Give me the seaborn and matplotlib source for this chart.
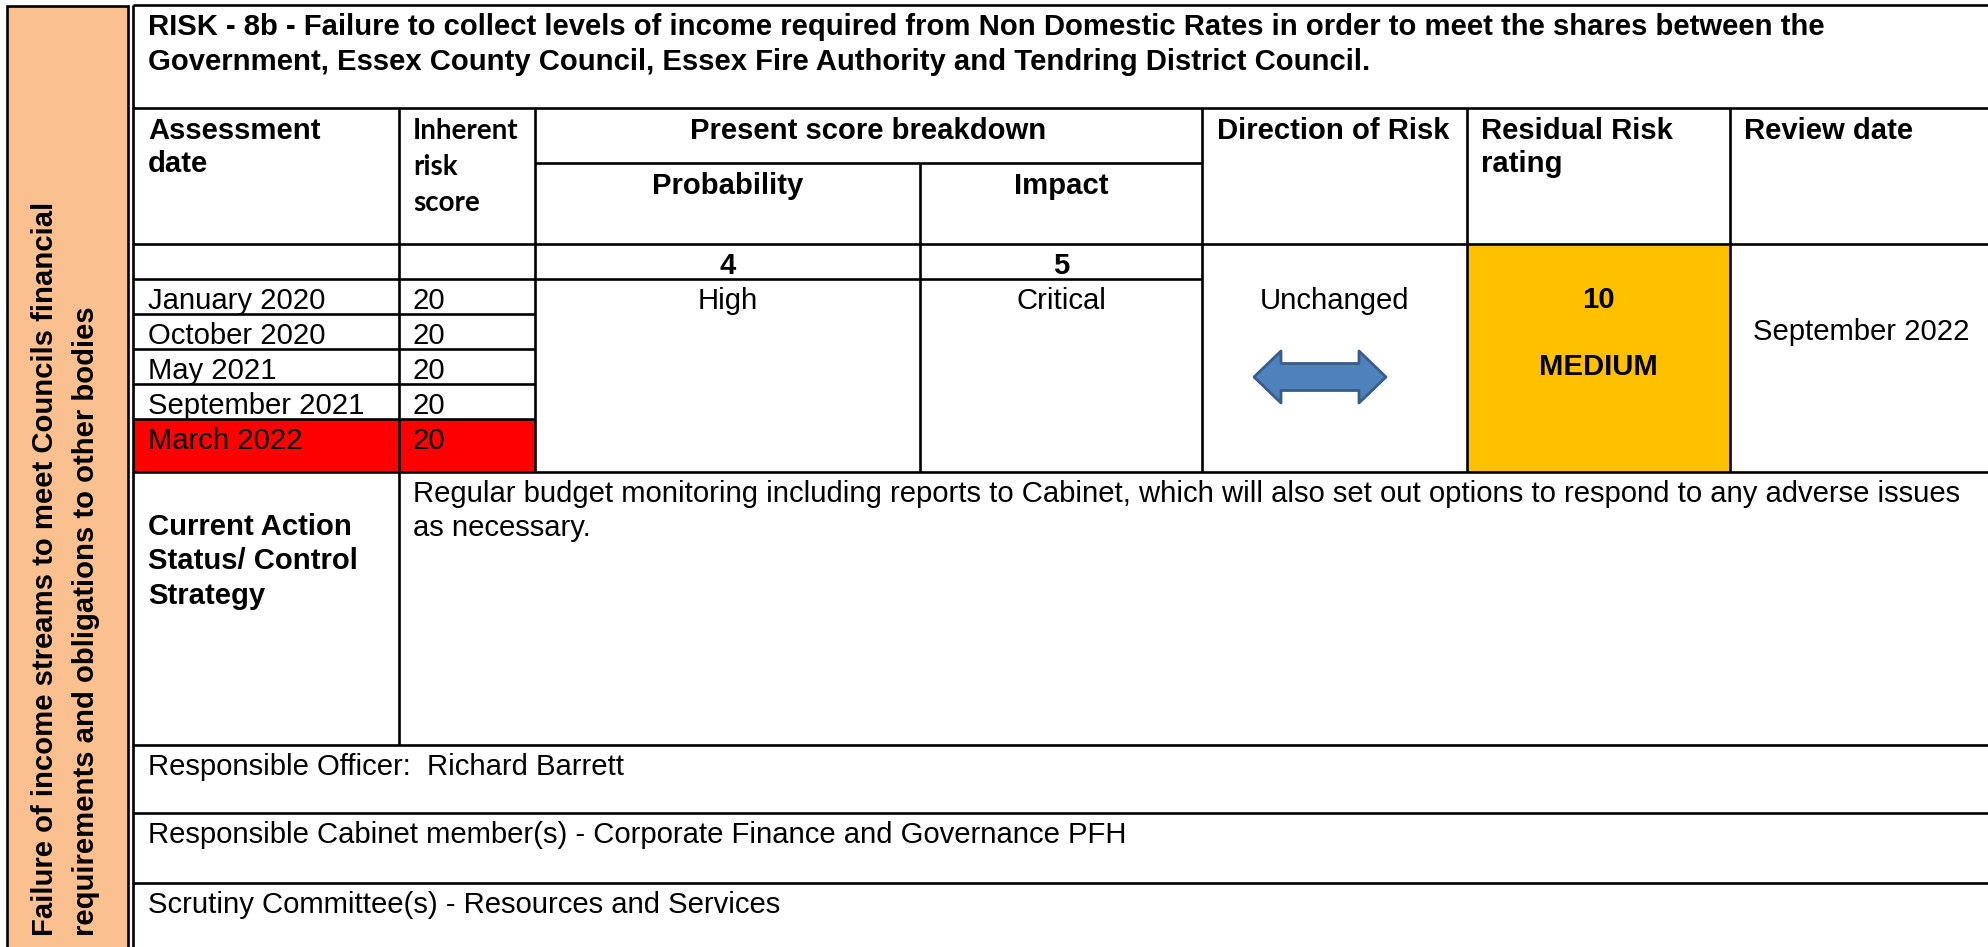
import matplotlib
matplotlib.use("Agg")
import matplotlib.pyplot as plt
from matplotlib.patches import Rectangle, Polygon
import seaborn as sns

# -----------------------------
# Table content
# -----------------------------
risk_title = [
    "RISK - 8b - Failure to collect levels of income required from Non Domestic Rates in order to meet the shares between the",
    "Government, Essex County Council, Essex Fire Authority and Tendring District Council.",
]
side_label = [
    "Failure of income streams to meet Councils financial",
    "requirements and obligations to other bodies",
]
assessment_dates = ["January 2020", "October 2020", "May 2021", "September 2021", "March 2022"]
inherent_scores = [20, 20, 20, 20, 20]
score_headers = ["Probability", "Impact"]
score_values = [4, 5]
score_labels = ["High", "Critical"]
direction = "Unchanged"
residual_score = 10
residual_rating = "MEDIUM"
review_date = "September 2022"
control_strategy = [
    "Regular budget monitoring including reports to Cabinet, which will also set out options to respond to any adverse issues",
    "as necessary.",
]
footer_rows = [
    "Responsible Officer:  Richard Barrett",
    "Responsible Cabinet member(s) - Corporate Finance and Governance PFH",
    "Scrutiny Committee(s) - Resources and Services",
]

sns.set_theme(style="white")
plt.rcParams['font.family'] = ['Liberation Sans', 'DejaVu Sans']
plt.rcParams['text.color'] = 'black'

W, H = 1988, 947
fig = plt.figure(figsize=(W / 100, H / 100), dpi=100)
ax = fig.add_axes([0, 0, 1, 1])
ax.set_xlim(0, W)
ax.set_ylim(H, 0)
ax.axis("off")

FS = 21.1
LW = 1.9
DY = 3.5  # text nudge so glyphs sit like the Word rendering

# column edges and row edges (pixels)
x_left, x_date, x_inh, x_prob, x_dir, x_res, x_rev, x_right = 133, 399, 535, 920, 1202, 1467, 1730, 1992
y_top, y_head, y_sub, y_val, y_rows0 = 5, 108, 163, 244, 279
row_h = 35
y_rows_end = 472
y_footer = [745, 813, 883]


def txt(x, y, s, ha="left", bold=False, **kw):
    kw.setdefault("fontsize", FS)
    ax.text(x, y + DY, s, ha=ha, va="center", fontweight="bold" if bold else "normal", **kw)


# fills
ax.add_patch(Rectangle((7, 6), 121, 950, facecolor="#FAC090", edgecolor="black", lw=LW))
ax.add_patch(Rectangle((x_res, y_val), x_rev - x_res, y_rows_end - y_val, facecolor="#FFC000", lw=0))
last_top = y_rows0 + row_h * (len(assessment_dates) - 1)
ax.add_patch(Rectangle((x_left, last_top), x_inh - x_left, y_rows_end - last_top,
                       facecolor="#FF0000", lw=0))


def hline(y, x0=x_left, x1=x_right):
    ax.plot([x0, x1], [y, y], color="black", lw=LW, solid_capstyle="butt")


def vline(x, y0, y1):
    ax.plot([x, x], [y0, y1], color="black", lw=LW, solid_capstyle="butt")


# grid lines
for y in [y_top, y_head, y_val, y_rows_end] + y_footer:
    hline(y)
hline(y_sub, x_inh, x_dir)
hline(y_rows0, x_left, x_dir)
for i in range(1, len(assessment_dates)):
    hline(y_rows0 + row_h * i, x_left, x_inh)
vline(x_left, y_top, H + 5)
vline(x_date, y_head, y_footer[0])
vline(x_inh, y_head, y_rows_end)
vline(x_prob, y_sub, y_rows_end)
for x in [x_dir, x_res, x_rev]:
    vline(x, y_head, y_rows_end)

# side label
for i, line in enumerate(side_label):
    ax.text(45 + 41 * i, 936, line, rotation=90, rotation_mode="anchor", ha="left", va="center",
            fontsize=FS, fontweight="bold")

# title
for i, line in enumerate(risk_title):
    txt(148, 23 + 35 * i, line, bold=True)

# headers
txt(148, 127, "Assessment", bold=True)
txt(148, 160, "date", bold=True)
for i, word in enumerate(["Inherent", "risk", "score"]):
    txt(413, 127 + 36 * i, word, bold=True, fontsize=20, family=["Lato", "DejaVu Sans"])
txt((x_inh + x_dir) / 2, 127, "Present score breakdown", ha="center", bold=True)
score_cols = [(x_inh, x_prob), (x_prob, x_dir)]
for (a, b), head, val, lab in zip(score_cols, score_headers, score_values, score_labels):
    cx = (a + b) / 2
    txt(cx, 182, head, ha="center", bold=True)
    txt(cx, 262, str(val), ha="center", bold=True)
    txt(cx, 297, lab, ha="center")
txt(x_dir + 15, 127, "Direction of Risk", bold=True)
txt(x_res + 14, 127, "Residual Risk", bold=True)
txt(x_res + 14, 160, "rating", bold=True)
txt(x_rev + 14, 127, "Review date", bold=True)

# assessment rows
for i, (d, s) in enumerate(zip(assessment_dates, inherent_scores)):
    y = y_rows0 + 18 + row_h * i
    txt(148, y, d)
    txt(413, y, str(s))

# direction of risk
txt((x_dir + x_res) / 2, 297, direction, ha="center")
cx, cy = 1320, 377
half_w, head_l, shaft_h, head_h = 66, 27, 13.5, 26
arrow = Polygon([
    (cx - half_w, cy), (cx - half_w + head_l, cy - head_h), (cx - half_w + head_l, cy - shaft_h),
    (cx + half_w - head_l, cy - shaft_h), (cx + half_w - head_l, cy - head_h), (cx + half_w, cy),
    (cx + half_w - head_l, cy + head_h), (cx + half_w - head_l, cy + shaft_h),
    (cx - half_w + head_l, cy + shaft_h), (cx - half_w + head_l, cy + head_h),
], closed=True, facecolor="#4F81BD", edgecolor="#385D8A", lw=2, joinstyle="round")
ax.add_patch(arrow)

# residual rating
txt((x_res + x_rev) / 2, 296, str(residual_score), ha="center", bold=True)
txt((x_res + x_rev) / 2, 363, residual_rating, ha="center", bold=True)
txt((x_rev + x_right) / 2, 328, review_date, ha="center")

# control strategy
for i, word in enumerate(["Current Action", "Status/ Control", "Strategy"]):
    txt(148, 523 + 34.5 * i, word, bold=True)
for i, line in enumerate(control_strategy):
    txt(413, 490 + 34 * i, line)

# footer rows
for y0, line in zip(y_footer, footer_rows):
    txt(148, y0 + 18, line)

fig.savefig("out.png", dpi=100)
